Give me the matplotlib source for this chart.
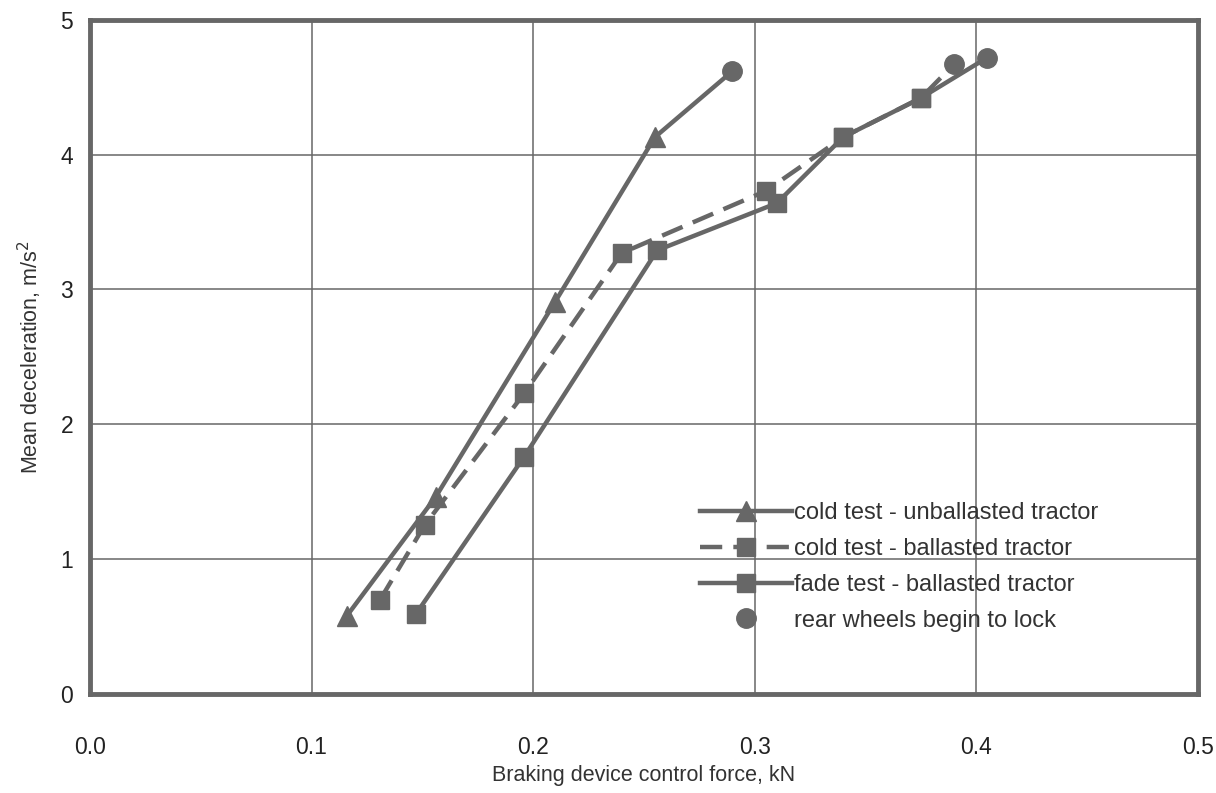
import matplotlib
matplotlib.use("Agg")
import matplotlib.pyplot as plt

# Values
cold_unballasted_x = [0.116, 0.156, 0.210, 0.255, 0.290]
cold_unballasted_y = [0.58, 1.46, 2.91, 4.13, 4.62]

cold_ballasted_x = [0.131, 0.151, 0.196, 0.240, 0.305, 0.340, 0.375, 0.390]
cold_ballasted_y = [0.70, 1.25, 2.23, 3.27, 3.73, 4.13, 4.42, 4.67]

fade_ballasted_x = [0.147, 0.196, 0.256, 0.310, 0.340, 0.375, 0.405]
fade_ballasted_y = [0.59, 1.76, 3.29, 3.64, 4.13, 4.42, 4.72]

# last point of each series is where the rear wheels begin to lock
lock_x = [cold_unballasted_x[-1], cold_ballasted_x[-1], fade_ballasted_x[-1]]
lock_y = [cold_unballasted_y[-1], cold_ballasted_y[-1], fade_ballasted_y[-1]]

x_ticks = [0.0, 0.1, 0.2, 0.3, 0.4, 0.5]
x_tick_labels = ["0.0", "0.1", "0.2", "0.3", "0.4", "0.5"]
y_ticks = [0, 1, 2, 3, 4, 5]

plt.rcParams["font.family"] = ["Liberation Sans", "DejaVu Sans"]
gray = "#676767"

fig = plt.figure(figsize=(12.16, 7.93), dpi=100)
ax = fig.add_axes([0.074, 0.125, 0.911, 0.85])

lw = 3.2
ax.plot(cold_unballasted_x, cold_unballasted_y, color=gray, lw=lw, marker="^",
        markersize=15, markevery=list(range(len(cold_unballasted_x) - 1)),
        label="cold test - unballasted tractor", zorder=3)
ax.plot(cold_ballasted_x, cold_ballasted_y, color=gray, lw=lw, ls=(0, (5, 2.5)),
        marker="s", markersize=13.5, markevery=list(range(len(cold_ballasted_x) - 1)),
        label="cold test - ballasted tractor", zorder=3)
ax.plot(fade_ballasted_x, fade_ballasted_y, color=gray, lw=lw, marker="s",
        markersize=13.5, markevery=list(range(len(fade_ballasted_x) - 1)),
        label="fade test - ballasted tractor", zorder=3)
ax.plot(lock_x, lock_y, ls="none", marker="o", color=gray, markersize=14,
        label="rear wheels begin to lock", zorder=4)

ax.set_xlim(0, 0.5)
ax.set_ylim(0, 5)
ax.set_xticks(x_ticks)
ax.set_xticklabels(x_tick_labels)
ax.set_yticks(y_ticks)
ax.tick_params(length=0, labelsize=16.5, colors="#222222")
ax.tick_params(axis="x", pad=30)
ax.tick_params(axis="y", pad=12)
ax.grid(True, color=gray, lw=1.1)
ax.set_axisbelow(True)
for s in ax.spines.values():
    s.set_color(gray)
    s.set_linewidth(3.5)

ax.set_xlabel("Braking device control force, kN", fontsize=15.5, color="#333333", labelpad=5)
ax.set_ylabel("Mean deceleration, m/s$^2$", fontsize=15.5, color="#333333", labelpad=12)

leg = ax.legend(loc="upper left", bbox_to_anchor=(0.542, 0.298), frameon=False,
                fontsize=17, handlelength=3.9, handletextpad=0.1,
                labelspacing=0.58, borderaxespad=0)
for t in leg.get_texts():
    t.set_color("#333333")

fig.savefig("out.png", dpi=100)
